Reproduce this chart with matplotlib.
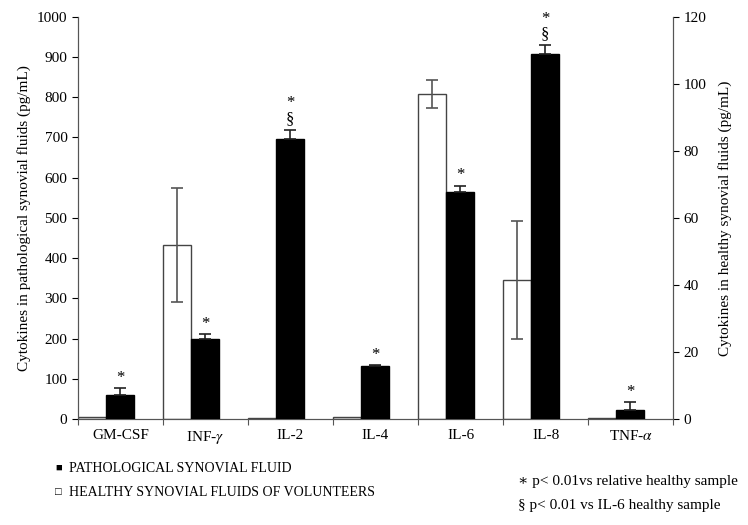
import matplotlib.pyplot as plt
import numpy as np

plt.rcParams['font.family'] = ['Liberation Serif', 'DejaVu Serif']
plt.rcParams['mathtext.fontset'] = 'stix'

cytokines = ['GM-CSF', 'INF-$\\gamma$', 'IL-2', 'IL-4', 'IL-6', 'IL-8', 'TNF-$\\alpha$']
# pathological fluid, left axis (pg/mL)
patho = [60, 200, 696, 131, 565, 908, 22]
patho_err = [17, 11, 23, 3, 15, 22, 20]
# healthy volunteers, right axis (pg/mL)
healthy = [0.5, 52, 0.3, 0.5, 97, 41.5, 0.4]
healthy_err = [0, 17, 0, 0, 4.2, 17.6, 0]
marks = ['*', '*', '*\n§', '*', '*', '*\n§', '*']

fig = plt.figure(figsize=(7.48, 5.25), dpi=100)
ax = fig.add_axes([0.104, 0.202, 0.796, 0.766])
ax2 = ax.twinx()

x = np.arange(len(cytokines))
w = 0.33

# healthy bars (white, right axis)
ax2.bar(x - 0.5, healthy, width=w, align='edge', color='white',
        edgecolor='#444444', linewidth=1.0)
for i in range(len(x)):
    if healthy_err[i] > 0:
        ax2.errorbar(x[i] - 0.5 + w / 2, healthy[i], yerr=healthy_err[i],
                     fmt='none', ecolor='#555555', elinewidth=1.2, capsize=4, capthick=1.2)

# pathological bars (black, left axis)
ax.bar(x - 0.5 + w, patho, width=w, align='edge', color='black', edgecolor='black', zorder=3)
ax.errorbar(x - 0.5 + 1.5 * w, patho, yerr=[np.zeros(len(x)), patho_err],
            fmt='none', ecolor='#222222', elinewidth=1.2, capsize=4, capthick=1.2, zorder=4)
for i in range(len(x)):
    ax.text(x[i] - 0.5 + 1.5 * w, patho[i] + patho_err[i] + 6, marks[i],
            ha='center', va='bottom', fontsize=12, linespacing=1.0)

ax.set_zorder(ax2.get_zorder() + 1)
ax.patch.set_visible(False)

ax.set_xlim(-0.5, len(x) - 0.5)
ax.set_ylim(0, 1000)
ax2.set_ylim(0, 120)
ax.set_yticks(np.arange(0, 1001, 100))
ax2.set_yticks(np.arange(0, 121, 20))

ax.set_xticks(np.arange(-0.5, len(x), 1))
ax.set_xticklabels([])
ax.set_xticks(x, minor=True)
ax.set_xticklabels(cytokines, minor=True)
ax.tick_params(axis='x', which='minor', length=0, pad=7, labelsize=11)
ax.tick_params(axis='x', which='major', direction='out', length=4, color='#555555')
ax.tick_params(axis='y', direction='out', length=4, labelsize=11)
ax2.tick_params(axis='y', direction='out', length=4, labelsize=11)

for a in (ax, ax2):
    a.spines['top'].set_visible(False)
    for s in ('left', 'right', 'bottom'):
        a.spines[s].set_color('#555555')

ax.set_ylabel('Cytokines in pathological synovial fluids (pg/mL)', fontsize=11)
ax2.set_ylabel('Cytokines in healthy synovial fluids (pg/mL)', fontsize=11, labelpad=8)

# legend and notes below the chart
fig.text(0.074, 0.108, '■', fontsize=8, va='center')
fig.text(0.092, 0.108, 'PATHOLOGICAL SYNOVIAL FLUID', fontsize=10, va='center')
fig.text(0.074, 0.061, '□', fontsize=8, va='center')
fig.text(0.092, 0.061, 'HEALTHY SYNOVIAL FLUIDS OF VOLUNTEERS', fontsize=10, va='center')
fig.text(0.693, 0.083, '∗ p< 0.01vs relative healthy sample', fontsize=11, va='center')
fig.text(0.693, 0.038, '§ p< 0.01 vs IL-6 healthy sample', fontsize=11, va='center')

fig.savefig('out.png', dpi=100)
